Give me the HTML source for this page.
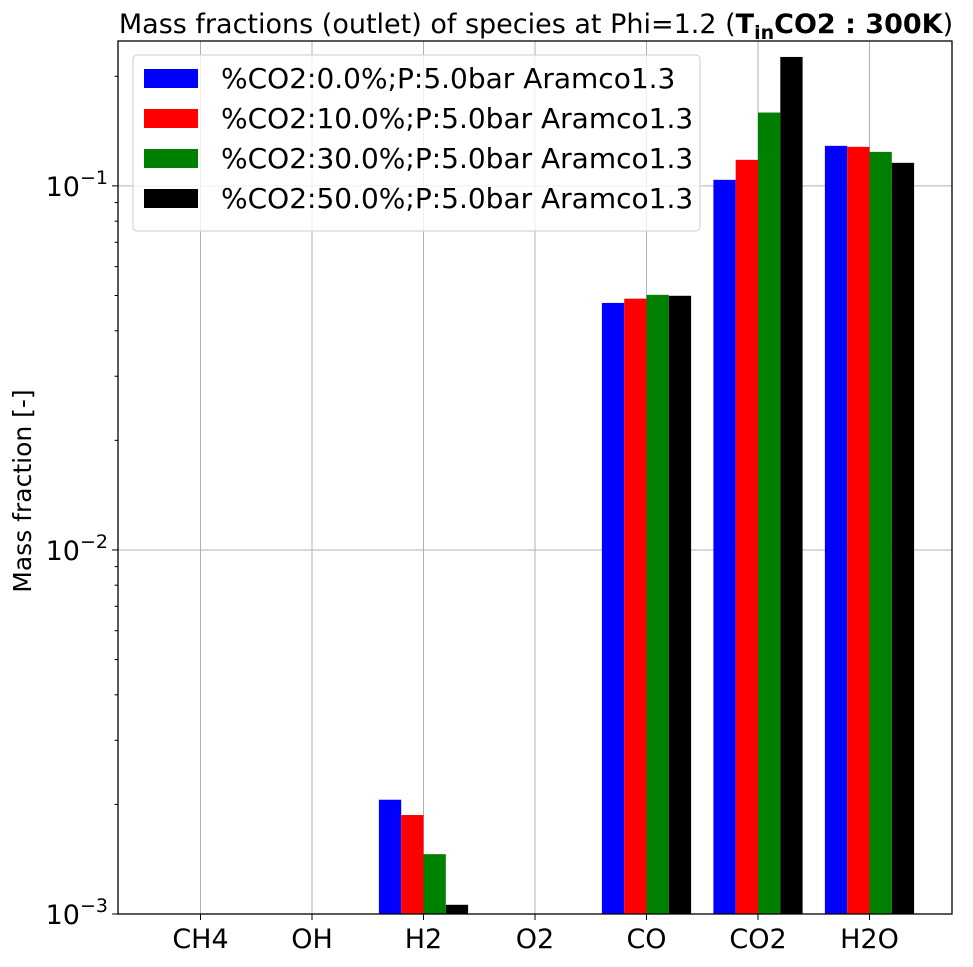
<!DOCTYPE html>
<html><head><meta charset="utf-8"><style>
body{margin:0;background:#fff}
svg text{font-family:"DejaVu Sans","Liberation Sans",sans-serif}
</style></head><body>
<svg id="c" width="973" height="962" xmlns="http://www.w3.org/2000/svg"></svg>
<script>
const categories=["CH4","OH","H2","O2","CO","CO2","H2O"];
const seriesNames=["%CO2:0.0%;P:5.0bar Aramco1.3","%CO2:10.0%;P:5.0bar Aramco1.3","%CO2:30.0%;P:5.0bar Aramco1.3","%CO2:50.0%;P:5.0bar Aramco1.3"];
const colors=["#0000ff","#ff0000","#008000","#000000"];
const s0=[1e-12,1e-12,0.00206,1e-12,0.0477,0.1039,0.1288];
const s1=[1e-12,1e-12,0.00187,1e-12,0.0490,0.1179,0.1280];
const s2=[1e-12,1e-12,0.00146,1e-12,0.0502,0.159,0.124];
const s3=[1e-12,1e-12,0.00106,1e-12,0.0499,0.226,0.1157];
const series=[s0,s1,s2,s3];
const yTicks=[0.001,0.01,0.1];
const yTickExp=["−3","−2","−1"];

const NS="http://www.w3.org/2000/svg";
const svg=document.getElementById('c');
const L=118,R=952,T=41,B=914,yMin=1e-3,yMax=0.25;
const dec=(B-T)/Math.log10(yMax/yMin);
function y(v){v=Math.max(v,yMin);return B-(Math.log10(v)-Math.log10(yMin))*dec;}
// matplotlib bar margins: range [-0.4-pad, n-1+0.4+pad]
const xLo=-0.4-0.05*(categories.length-1+0.8), xHi=categories.length-1+0.4+0.05*(categories.length-1+0.8);
function x(i){return L+(i-xLo)/(xHi-xLo)*(R-L);}
const step=(R-L)/(xHi-xLo);
const bw=step*0.2;
function el(t,a,txt){const e=document.createElementNS(NS,t);for(const k in a)e.setAttribute(k,a[k]);if(txt!=null)e.textContent=txt;svg.appendChild(e);return e;}

categories.forEach((c,i)=>{const g=el('line',{x1:x(i),x2:x(i),y1:T,y2:B,stroke:'#b0b0b0','stroke-width':1});

});
yTicks.forEach(v=>{const g=el('line',{x1:L,x2:R,y1:y(v),y2:y(v),stroke:'#b0b0b0','stroke-width':1});

});

series.forEach((s,k)=>{s.forEach((v,i)=>{
 if(v<=yMin)return;
 const x0=x(i)-2*bw+k*bw;
 const r=el('rect',{x:x0,y:y(v),width:bw,height:B-y(v),fill:colors[k]});
 
 
});});

const box=el('rect',{x:L,y:T,width:R-L,height:B-T,fill:'none',stroke:'#000','stroke-width':1.3});



categories.forEach((c,i)=>{el('line',{x1:x(i),x2:x(i),y1:B,y2:B+6,stroke:'#000'});
const t=el('text',{x:x(i),y:B+34,'font-size':27,'text-anchor':'middle'},c);

});

yTicks.forEach((v,j)=>{el('line',{x1:L-6,x2:L,y1:y(v),y2:y(v),stroke:'#000'});
const t=el('text',{x:L-10,y:y(v)+10,'font-size':27,'text-anchor':'end'});


const a=document.createElementNS(NS,'tspan');a.textContent='10';t.appendChild(a);
const b=document.createElementNS(NS,'tspan');b.setAttribute('font-size','19');b.setAttribute('dy','-12');b.textContent=yTickExp[j];t.appendChild(b);
for(let m=2;m<=9;m++){const mv=v*m;if(mv<=yMax)el('line',{x1:L-3.5,x2:L,y1:y(mv),y2:y(mv),stroke:'#000'});}
});

const yl=el('text',{x:0,y:0,'font-size':25,'text-anchor':'middle',transform:'translate(31,491) rotate(-90)'},'Mass fraction [-]');



const ti=el('text',{x:536,y:33,'font-size':27,'text-anchor':'middle'});


ti.innerHTML='Mass fractions (outlet) of species at Phi=1.2  (<tspan font-weight="bold">T</tspan><tspan font-weight="bold" font-size="19" dy="6">in</tspan><tspan font-weight="bold" dy="-6">CO2 : 300K</tspan>)';

const lg=el('rect',{x:133,y:55,width:567,height:176,rx:4,fill:'#fff','fill-opacity':0.8,stroke:'#cccccc'});


seriesNames.forEach((n,k)=>{const yy=78+k*40;
const sw=el('rect',{x:144,y:yy-9,width:54,height:19,fill:colors[k]});


const t=el('text',{x:221,y:yy+10,'font-size':28},n);

});
</script>
</body></html>
